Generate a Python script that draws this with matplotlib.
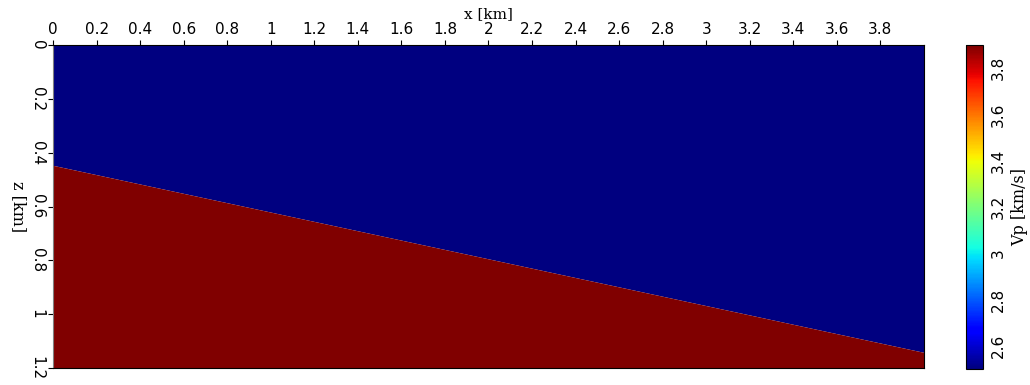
import numpy as np
import matplotlib
matplotlib.use("Agg")
import matplotlib.pyplot as plt
import matplotlib.colors as colors
import matplotlib.cm as cm

# model: two layers separated by a dipping interface
x_ends = [0.0, 4.0]            # km
interface_z = [0.447, 1.142]   # km, depth of interface at x_ends
z_max = 1.2
vp_top = 2.5                   # km/s
vp_bottom = 3.9
x_ticks = [round(0.2 * i, 1) for i in range(20)]
z_ticks = [0, 0.2, 0.4, 0.6, 0.8, 1.0, 1.2]
cb_ticks = [2.6, 2.8, 3.0, 3.2, 3.4, 3.6, 3.8]

serif = "DejaVu Serif"
plt.rcParams["font.family"] = "DejaVu Sans"

fig = plt.figure(figsize=(10.3, 3.85), dpi=100)
ax = fig.add_axes([0.0515, 0.0442, 0.8455, 0.8388])
cax = fig.add_axes([0.938, 0.0416, 0.016, 0.8414])

cmap = plt.get_cmap("jet")
norm = colors.Normalize(vmin=vp_top, vmax=vp_bottom)

ax.fill_between(x_ends, [0, 0], interface_z, color=cmap(norm(vp_top)), lw=0)
ax.fill_between(x_ends, interface_z, [z_max, z_max], color=cmap(norm(vp_bottom)), lw=0)

ax.set_xlim(0, 4)
ax.set_ylim(z_max, 0)
ax.xaxis.tick_top()
ax.xaxis.set_label_position("top")
ax.set_xticks(x_ticks)
ax.set_xticklabels([f"{t:g}" for t in x_ticks], fontsize=11)
ax.set_yticks(z_ticks)
ax.set_yticklabels([f"{t:g}" for t in z_ticks], fontsize=11, rotation=-90, va="center")
ax.tick_params(axis="both", direction="out", length=3.6, width=0.8, pad=2.5)
ax.set_xlabel("x [km]", fontsize=11, family=serif)
ax.xaxis.set_label_coords(0.5, 1.084)
ax.set_ylabel("z [km]", fontsize=11.5, family=serif, rotation=-90)
ax.yaxis.set_label_coords(-0.05, 0.5)
ax.spines["left"].set_color("#808080")

sm = cm.ScalarMappable(norm=norm, cmap=cmap)
cb = fig.colorbar(sm, cax=cax)
cb.set_ticks(cb_ticks)
cb.set_ticklabels([f"{t:g}" for t in cb_ticks])
cax.tick_params(labelsize=11, rotation=90, length=0, pad=6)
for lab in cax.get_yticklabels():
    lab.set_va("center")
cb.set_label("Vp [km/s]", fontsize=11.5, family=serif, rotation=90, labelpad=4)
cb.outline.set_linewidth(0.8)

fig.savefig("out.png", dpi=100)
